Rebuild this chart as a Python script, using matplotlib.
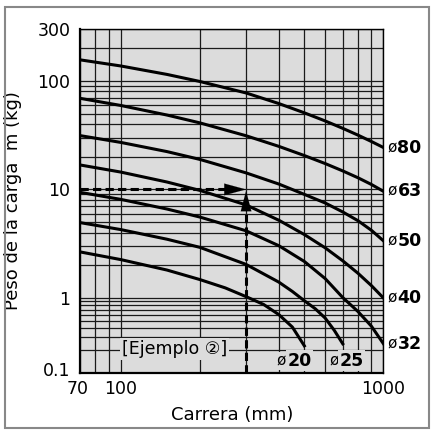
import numpy as np
import matplotlib.pyplot as plt
import matplotlib.transforms as mtransforms
from matplotlib.patches import Rectangle

plt.rcParams['font.family'] = ['DejaVu Sans', 'Noto Sans CJK JP']

# stroke (mm) vs allowable load (kg), one curve per bore size
stroke = [70, 100, 150, 200, 300, 400, 500, 600, 700, 800, 900, 1000]
load_80 = [156, 137, 114.5, 98.6, 77.3, 61.7, 50.7, 42.7, 36.5, 31.6, 27.6, 24.3]
load_63 = [69, 59.3, 48.4, 41.0, 31.2, 24.9, 20.5, 17.3, 14.8, 12.8, 11.1, 9.6]
load_50 = [31.3, 27.1, 22.3, 18.9, 14.2, 11.2, 9.0, 7.5, 6.2, 5.15, 4.2, 3.36]
load_40 = [16.8, 14.45, 11.7, 9.8, 7.2, 5.2, 3.84, 2.9, 2.2, 1.69, 1.3, 1.0]
load_32 = [9.4, 8.1, 6.6, 5.57, 4.16, 3.03, 2.17, 1.51, 1.01, 0.66, 0.42, 0.245]
stroke_25 = [70, 100, 150, 200, 300, 400, 450, 500, 550, 600, 650, 700]
load_25 = [4.95, 4.27, 3.48, 2.93, 2.04, 1.40, 1.15, 0.92, 0.72, 0.54, 0.37, 0.245]
stroke_20 = [70, 100, 150, 200, 250, 300, 350, 400, 450, 500]
load_20 = [2.66, 2.26, 1.81, 1.48, 1.24, 1.03, 0.82, 0.60, 0.41, 0.23]

curves = [(stroke, load_80), (stroke, load_63), (stroke, load_50),
          (stroke, load_40), (stroke, load_32), (stroke_25, load_25),
          (stroke_20, load_20)]
right_labels = ['80', '63', '50', '40', '32']
right_label_y = [24.3, 9.6, 3.36, 1.0, 0.245]

ex_stroke = 300
ex_load = 10

yticks = [0.1, 1, 10, 100, 300]
ytick_labels = ['0.1', '1', '10', '100', '300']
xticks = [70, 100, 1000]
xtick_labels = ['70', '100', '1000']
x_grid = [80, 90, 200, 300, 400, 500, 600, 700, 800, 900]
y_grid = [0.2, 0.3, 0.4, 0.5, 0.6, 0.7, 0.8, 0.9,
          2, 3, 4, 5, 6, 7, 8, 9,
          20, 30, 40, 50, 60, 70, 80, 90, 200]


# the decade below 1 is drawn shorter than the others
def fwd(y):
    t = np.log10(np.clip(y, 1e-9, None))
    return np.where(t >= 0, t, 0.69 * t)


def inv(t):
    return np.where(t >= 0, 10.0 ** t, 10.0 ** (t / 0.69))


bg = '#dcdcdc'
fig = plt.figure(figsize=(4.34, 4.30), dpi=100)
fig.patches.append(Rectangle((0.011, 0.005), 0.977, 0.978, transform=fig.transFigure,
                             fill=False, edgecolor='#888888', lw=1.5))
ax = fig.add_axes([0.1843, 0.1326, 0.6993, 0.80])
ax.set_facecolor(bg)
ax.set_xscale('log')
ax.set_yscale('function', functions=(fwd, inv))
ax.set_xlim(70, 1000)
ax.set_ylim(0.1, 300)

ax.set_xticks(xticks)
ax.set_xticklabels(xtick_labels)
ax.set_xticks(x_grid, minor=True)
ax.set_xticklabels([], minor=True)
ax.set_yticks(yticks)
ax.set_yticklabels(ytick_labels)
ax.set_yticks(y_grid, minor=True)
ax.set_yticklabels([], minor=True)
ax.tick_params(which='both', length=0, labelsize=12.5, colors='black')
ax.tick_params(axis='x', pad=5)
ax.tick_params(axis='y', pad=7)
ax.grid(which='both', color='#1a1a1a', lw=0.9)
ax.set_axisbelow(True)
for s in ['left', 'bottom']:
    ax.spines[s].set_linewidth(1.6)
for s in ['top', 'right']:
    ax.spines[s].set_linewidth(1.0)

# "0.1" sits a little above the bottom edge, "70" a little left
lbl = ax.get_yticklabels()[0]
lbl.set_transform(lbl.get_transform() + mtransforms.ScaledTranslation(0, 3 / 72, fig.dpi_scale_trans))
lbl = ax.get_xticklabels()[0]
lbl.set_transform(lbl.get_transform() + mtransforms.ScaledTranslation(-2 / 72, 0, fig.dpi_scale_trans))

for xs, ys in curves:
    ax.plot(xs, ys, color='black', lw=2.2, solid_joinstyle='round', zorder=3)

# example arrows
dash = (0, (2.7, 1.4))
ax.plot([70, 250], [ex_load, ex_load], color='black', lw=2.2, ls=dash, zorder=4)
ax.annotate('', xy=(ex_stroke, ex_load), xytext=(244, ex_load),
            arrowprops=dict(arrowstyle='-|>,head_length=1.55,head_width=0.42',
                            color='black', lw=0.1, shrinkA=0, shrinkB=0), zorder=5)
ax.plot([ex_stroke, ex_stroke], [0.1, 6.6], color='black', lw=2.2, ls=dash, zorder=4)
ax.annotate('', xy=(ex_stroke, 9.7), xytext=(ex_stroke, 6.2),
            arrowprops=dict(arrowstyle='-|>,head_length=1.45,head_width=0.38',
                            color='black', lw=0.1, shrinkA=0, shrinkB=0), zorder=5)

trans = mtransforms.blended_transform_factory(ax.transAxes, ax.transData)
for lab, yv in zip(right_labels, right_label_y):
    ax.text(1.013, yv, 'ø', fontsize=11, va='center', ha='left', transform=trans, clip_on=False)
    ax.text(1.046, yv, lab, fontsize=12.5, fontweight='bold', va='center', ha='left',
            transform=trans, clip_on=False)

box = dict(facecolor=bg, edgecolor='none', pad=1.0)
ax.text(392, 0.145, 'ø', fontsize=11, va='center', ha='left', bbox=box, zorder=6)
ax.text(432, 0.145, '20', fontsize=12.5, fontweight='bold', va='center', ha='left', bbox=box, zorder=6)
ax.text(620, 0.145, 'ø', fontsize=11, va='center', ha='left', bbox=box, zorder=6)
ax.text(681, 0.145, '25', fontsize=12.5, fontweight='bold', va='center', ha='left', bbox=box, zorder=6)
ax.text(101, 0.21, '[Ejemplo ②]', fontsize=12.5, va='center', ha='left',
        bbox=dict(facecolor=bg, edgecolor='none', pad=1.5), zorder=6)

ax.set_xlabel('Carrera (mm)', fontsize=13)
ax.set_ylabel('Peso de la carga  m (kg)', fontsize=13)
ax.xaxis.set_label_coords(0.5, -0.097)
ax.yaxis.set_label_coords(-0.19, 0.5)

fig.savefig('out.png', dpi=100)
